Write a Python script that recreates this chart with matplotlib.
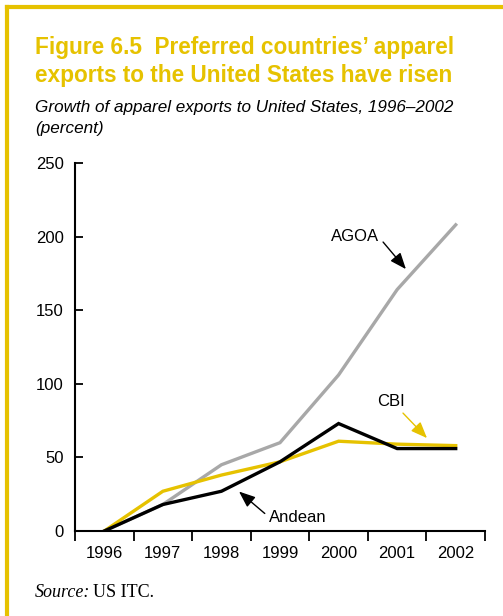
import matplotlib
matplotlib.use("Agg")
import matplotlib.pyplot as plt
from matplotlib.lines import Line2D

years = ["1996", "1997", "1998", "1999", "2000", "2001", "2002"]
agoa = [0, 18, 45, 60, 106, 164, 208]
cbi = [0, 27, 38, 47, 61, 59, 58]
andean = [0, 18, 27, 47, 73, 56, 56]
yticks = [0, 50, 100, 150, 200, 250]

YELLOW = "#E6C200"
GRAY = "#A8A8A8"
plt.rcParams['font.family'] = ['Liberation Sans', 'DejaVu Sans']

fig = plt.figure(figsize=(5.03, 6.16), dpi=100)
ax = fig.add_axes([75/503, 1-531/616, 410/503, 368/616])

xs = [i + 0.5 for i in range(len(years))]
ax.plot(xs, agoa, color=GRAY, lw=2.4, solid_joinstyle='miter')
ax.plot(xs, cbi, color=YELLOW, lw=2.4, solid_joinstyle='miter')
ax.plot(xs, andean, color="black", lw=2.4, solid_joinstyle='miter')

ax.set_xlim(0, 7)
ax.set_ylim(0, 250)
ax.set_xticks(range(8))
ax.set_xticklabels([])
ax.set_xticks(xs, minor=True)
ax.set_xticklabels(years, minor=True, fontsize=12)
ax.tick_params(axis='x', which='major', direction='out', length=7, width=1.3)
ax.tick_params(axis='x', which='minor', length=0, pad=11)
ax.set_yticks(yticks)
ax.set_yticklabels([str(v) for v in yticks], fontsize=12)
ax.tick_params(axis='y', direction='in', length=6, width=1.3, pad=8)
for s in ['top', 'right']:
    ax.spines[s].set_visible(False)
for s in ['left', 'bottom']:
    ax.spines[s].set_linewidth(1.5)

arrow = '-|>,head_length=0.55,head_width=0.22'

def label(text, pos, tail, tip, color):
    ax.text(pos[0], pos[1], text, fontsize=12, ha='center', va='center')
    ax.annotate("", xy=tip, xytext=tail,
                arrowprops=dict(arrowstyle=arrow, color=color, lw=1.0,
                                mutation_scale=18, shrinkA=0, shrinkB=0))

label("AGOA", (4.78, 200), (5.26, 196.3), (5.65, 177.9), 'black')
label("CBI", (5.40, 88), (5.60, 80.1), (6.01, 63.1), YELLOW)
label("Andean", (3.81, 9.5), (3.24, 11.9), (2.80, 26.8), 'black')

# Frame
fig.add_artist(Line2D([7/503, 1], [1-7/616, 1-7/616], color=YELLOW, lw=3, solid_capstyle='projecting', transform=fig.transFigure))
fig.add_artist(Line2D([7/503, 7/503], [0, 1-7/616], color=YELLOW, lw=3, solid_capstyle='projecting', transform=fig.transFigure))

fig.text(35/503, 1-54/616, "Figure 6.5  Preferred countries\u2019 apparel", color=YELLOW,
         fontsize=16.3, fontweight='bold', va='baseline')
fig.text(35/503, 1-82/616, "exports to the United States have risen", color=YELLOW,
         fontsize=16.3, fontweight='bold', va='baseline')
fig.text(35/503, 1-112/616, "Growth of apparel exports to United States, 1996\u20132002",
         fontsize=12.3, style='italic', va='baseline')
fig.text(35/503, 1-133/616, "(percent)", fontsize=12.3, style='italic', va='baseline')

t = fig.text(35/503, 1-597/616, "Source:", fontsize=13, style='italic',
             family='Liberation Serif', va='baseline')
fig.canvas.draw()
bb = t.get_window_extent()
fig.text(bb.x1/503 + 3/503, 1-597/616, "US ITC.", fontsize=13,
         family='Liberation Serif', va='baseline')

fig.savefig("out.png", dpi=100)
